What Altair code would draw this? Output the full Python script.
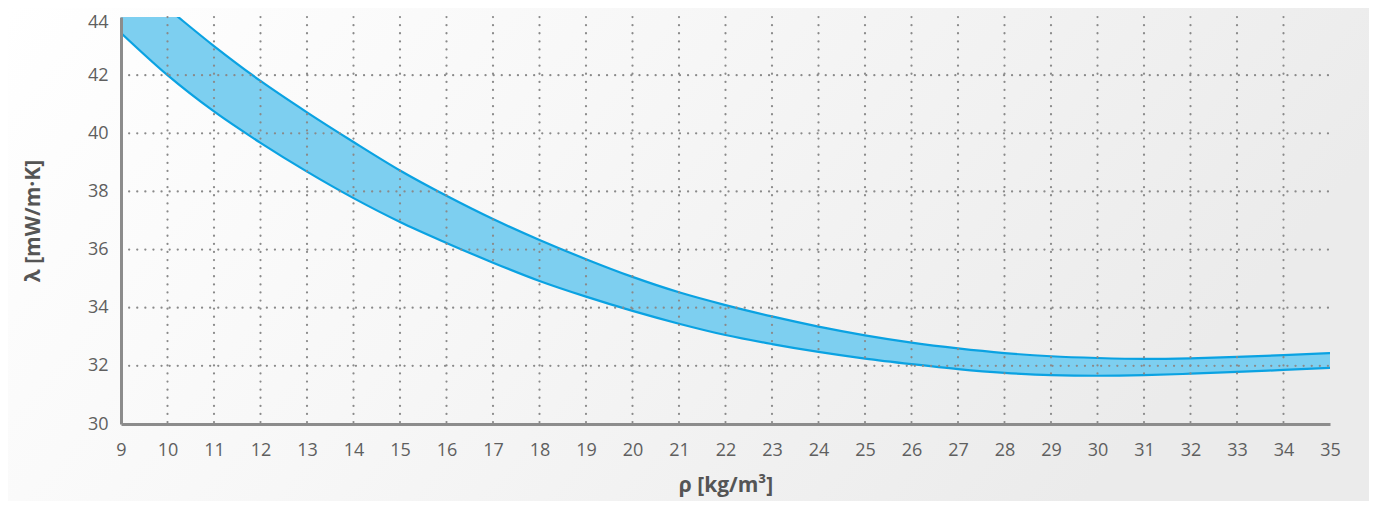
import altair as alt
import pandas as pd

rho = [9, 10, 11, 12, 13, 14, 15, 16, 17, 18, 19, 20, 21, 22, 23, 24, 25, 26, 27, 28, 29, 30, 31, 32, 33, 34, 35]
lam_upper = [45.6, 44.3, 43.0, 41.8, 40.72, 39.7, 38.72, 37.85, 37.05, 36.33, 35.67, 35.06, 34.53, 34.09, 33.7, 33.35, 33.05, 32.8, 32.6, 32.44, 32.33, 32.27, 32.24, 32.26, 32.31, 32.37, 32.44]
lam_lower = [43.45, 42.0, 40.75, 39.67, 38.68, 37.77, 36.95, 36.23, 35.55, 34.92, 34.38, 33.89, 33.45, 33.06, 32.75, 32.48, 32.25, 32.06, 31.89, 31.76, 31.68, 31.66, 31.68, 31.73, 31.79, 31.86, 31.93]

x_ticks = list(range(9, 36))
y_ticks = [30, 32, 34, 36, 38, 40, 42, 44]

df = pd.DataFrame({"rho": rho, "up": lam_upper, "lo": lam_lower})

W, H = 1209, 407
PL, PT = 113, 9
PR, PB = 1361 - PL - W, 493 - PT - H

FONT = "Open Sans"
LBL = "#5f5f5f"

bg = alt.Chart(pd.DataFrame({"k": [0]})).mark_rect(
    clip=False,
    color=alt.Gradient(
        gradient="linear",
        stops=[alt.GradientStop(color="#ffffff", offset=0),
               alt.GradientStop(color="#f7f7f7", offset=0.45),
               alt.GradientStop(color="#ebebeb", offset=1)],
        x1=0, x2=1, y1=0, y2=0.3,
    ),
).encode(
    x=alt.value(-PL), x2=alt.value(W + PR),
    y=alt.value(-PT), y2=alt.value(H + PB),
)

xs = alt.X("rho:Q",
           scale=alt.Scale(domain=[9, 35], nice=False, zero=False),
           axis=alt.Axis(values=x_ticks, format="d", title="ρ [kg/m³]",
                         grid=False, ticks=False, labelPadding=17,
                         labelFlush=False, titlePadding=15, zindex=2))
ys = alt.Y("lo:Q",
           scale=alt.Scale(domain=[30, 44], nice=False, zero=False),
           axis=alt.Axis(values=y_ticks, format="d", title="λ [mW/m·K]",
                         grid=False, ticks=False, labelPadding=13,
                         labelFlush=False, titlePadding=44, zindex=2,
                         labelOffset=alt.ExprRef(expr="datum.value == 44 ? 5 : 0")))

band = alt.Chart(df).mark_area(color="#7dcff0", opacity=1, clip=True, interpolate="monotone").encode(
    x=xs, y=ys, y2="up:Q"
)
line_lo = alt.Chart(df).mark_line(color="#0aa2e2", strokeWidth=2.2, clip=True, interpolate="monotone").encode(
    x="rho:Q", y="lo:Q"
)
line_up = alt.Chart(df).mark_line(color="#0aa2e2", strokeWidth=2.2, clip=True, interpolate="monotone").encode(
    x="rho:Q", y="up:Q"
)

grid_x = [v for v in x_ticks if 9 < v < 35]
grid_y = [v for v in y_ticks if 30 < v < 44]
gx = alt.Chart(pd.DataFrame({"gx": grid_x})).mark_rule(
    color="#8a8a8a", strokeWidth=2.2, strokeDash=[0.1, 8], strokeCap="round"
).encode(x="gx:Q", y=alt.value(0), y2=alt.value(H))
gy = alt.Chart(pd.DataFrame({"gy": grid_y})).mark_rule(
    color="#8a8a8a", strokeWidth=2.2, strokeDash=[0.1, 8], strokeCap="round"
).encode(y="gy:Q", x=alt.value(0), x2=alt.value(W))

chart = alt.layer(band, bg, band, line_lo, line_up, gx, gy).properties(
    width=W, height=H,
    autosize=alt.AutoSizeParams(type="none"),
    padding={"left": PL, "top": PT, "right": PR, "bottom": PB},
).configure_view(
    stroke=None,
).configure_axis(
    domainColor="#8c8c8c", domainWidth=3, labelColor=LBL, labelFont=FONT,
    labelFontSize=18, titleFont=FONT, titleFontSize=21, titleColor="#555555",
    titleFontWeight="bold",
)

chart.save("out.html", embed_options={"renderer": "svg", "actions": False})
